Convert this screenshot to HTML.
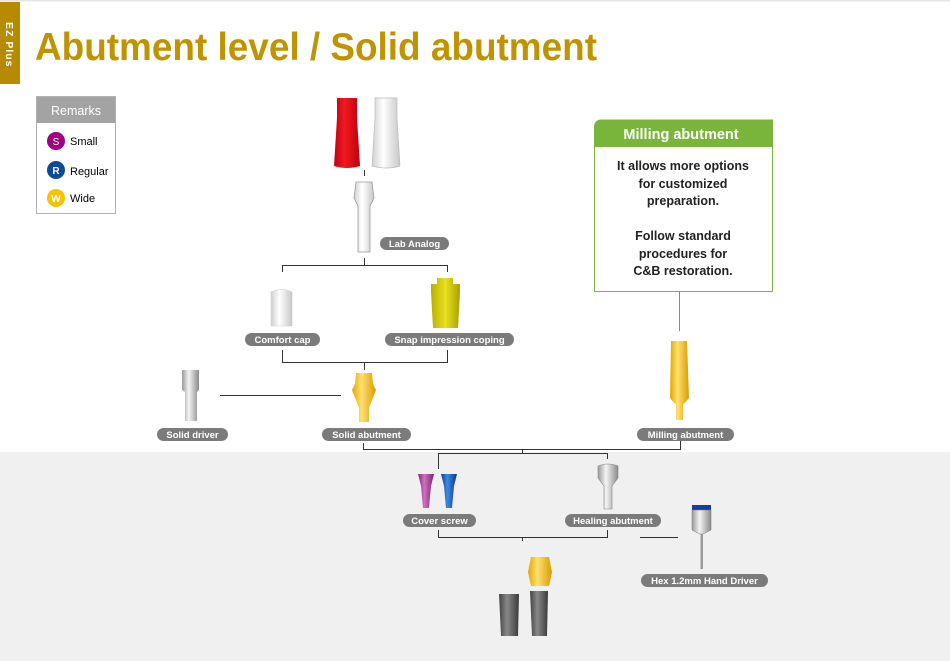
<!DOCTYPE html>
<html><head><meta charset="utf-8"><style>
html,body{margin:0;padding:0;background:#fff}
svg{display:block}
text{font-family:"Liberation Sans",sans-serif}
.pl{fill:#7b7b7b}
.pt{fill:#fff;font-size:9.5px;font-weight:bold;text-anchor:middle}
.ln{stroke:#333;stroke-width:1;fill:none}
</style></head><body>
<svg width="950" height="661" viewBox="0 0 950 661" xmlns="http://www.w3.org/2000/svg">
<defs>
<linearGradient id="gold" x1="0" x2="1"><stop offset="0" stop-color="#e0a800"/><stop offset=".4" stop-color="#ffe070"/><stop offset="1" stop-color="#d99c00"/></linearGradient>
<linearGradient id="silver" x1="0" x2="1"><stop offset="0" stop-color="#9a9a9a"/><stop offset=".4" stop-color="#f4f4f4"/><stop offset="1" stop-color="#8a8a8a"/></linearGradient>
<linearGradient id="white" x1="0" x2="1"><stop offset="0" stop-color="#d0d0d0"/><stop offset=".4" stop-color="#fff"/><stop offset="1" stop-color="#c8c8c8"/></linearGradient>
<linearGradient id="red" x1="0" x2="1"><stop offset="0" stop-color="#c00010"/><stop offset=".4" stop-color="#f01a20"/><stop offset="1" stop-color="#c00010"/></linearGradient>
<linearGradient id="yel" x1="0" x2="1"><stop offset="0" stop-color="#b8b000"/><stop offset=".5" stop-color="#e8e020"/><stop offset="1" stop-color="#a8a000"/></linearGradient>
<linearGradient id="grey" x1="0" x2="1"><stop offset="0" stop-color="#444"/><stop offset=".4" stop-color="#888"/><stop offset="1" stop-color="#3a3a3a"/></linearGradient>
<linearGradient id="pink" x1="0" x2="1"><stop offset="0" stop-color="#8a2a80"/><stop offset=".4" stop-color="#d070c0"/><stop offset="1" stop-color="#7a2070"/></linearGradient>
<linearGradient id="blue" x1="0" x2="1"><stop offset="0" stop-color="#1040a0"/><stop offset=".4" stop-color="#3c8ae0"/><stop offset="1" stop-color="#0c3490"/></linearGradient>
</defs>
<rect x="0" y="0" width="950" height="1.5" fill="#e6e6e6"/>
<rect x="0" y="452" width="950" height="209" fill="#eff0ef"/>
<rect x="0" y="2" width="20" height="82" fill="#b88a00"/>
<text x="0" y="0" transform="translate(6,22) rotate(90)" fill="#fff" font-size="10.5" font-weight="bold" letter-spacing="1">EZ Plus</text>
<text x="35" y="60" fill="#c09400" font-size="39" font-weight="bold" textLength="562" lengthAdjust="spacingAndGlyphs">Abutment level / Solid abutment</text>
<rect x="36.5" y="96.5" width="79" height="117" fill="#fff" stroke="#b0b0b0"/>
<rect x="37" y="97" width="78" height="26" fill="#a3a3a3"/>
<text x="76" y="115" fill="#fff" font-size="12.5" text-anchor="middle">Remarks</text>
<circle cx="56" cy="141" r="9" fill="#a0007f"/><text x="56" y="145" fill="#fff" font-size="10" text-anchor="middle">S</text>
<text x="70" y="145" font-size="11">Small</text>
<circle cx="56" cy="170" r="9" fill="#0e4a9a"/><text x="56" y="174" fill="#fff" font-size="10" font-weight="bold" text-anchor="middle">R</text>
<text x="70" y="175" font-size="11">Regular</text>
<circle cx="56" cy="198" r="9" fill="#f7c200"/><text x="56" y="202" fill="#fff" font-size="10" font-weight="bold" text-anchor="middle">W</text>
<text x="70" y="202" font-size="11">Wide</text>
<path d="M594.5,291.5 V128 Q594.5,120 602,120 H772.5 V291.5 Z" fill="#fff" stroke="#7ab63c"/>
<path d="M594,147 V128 Q594,119.5 602,119.5 H773 V147 Z" fill="#79b53b"/>
<text x="681" y="139" fill="#fff" font-size="14.5" font-weight="bold" text-anchor="middle">Milling abutment</text>
<g font-size="12.5" font-weight="bold" text-anchor="middle" fill="#222">
<text x="683" y="170">It allows more options</text>
<text x="683" y="188">for customized</text>
<text x="683" y="205">preparation.</text>
<text x="683" y="240">Follow standard</text>
<text x="683" y="258">procedures for</text>
<text x="683" y="275">C&amp;B restoration.</text>
</g>
<line x1="679.5" y1="292" x2="679.5" y2="331" stroke="#888"/>
<g class="ln">
<path d="M364.5,176 V170"/>
<path d="M364.5,258 V265.5 M282.5,272 V265.5 H447.5 V272"/>
<path d="M282.5,350 V362.5 H447.5 V350 M364.5,362.5 V370"/>
<path d="M220,395.5 H341"/>
<path d="M363.5,443 V449.5 H680.5 V441"/>
<path d="M522.5,449.5 V453.5 M438.5,469 V453.5 H607.5 V459"/>
<path d="M438.5,530 V537.5 H607.5 V530 M522.5,537.5 V541"/>
<path d="M640,537.5 H678"/>
</g>
<path d="M337,98 H357 V118 L360,166 Q347,170 334,166 L337,118 Z" fill="url(#red)"/>
<path d="M375,98 H397 V118 L400,166 Q387,170 372,166 L375,118 Z" fill="url(#white)" stroke="#bbb" stroke-width=".7"/>
<path d="M356,182 H372 L374,198 L370,206 V252 H358 V206 L354,198 Z" fill="url(#white)" stroke="#999" stroke-width=".8"/>
<path d="M271,292 Q282,287 292,292 V326 H271 Z" fill="url(#white)" stroke="#ccc" stroke-width=".6"/>
<path d="M437,278 H453 V284 H460 V292 L458,328 H433 L431,292 V284 H437 Z" fill="url(#yel)"/>
<path d="M356,373 H372 L373,384 L376,390 L369,408 V422 H359 V408 L352,390 L355,384 Z" fill="url(#gold)"/>
<path d="M182,370 H199 V390 L197,392 V421 H185 V392 L182,390 Z" fill="url(#silver)"/>
<path d="M671,341 H687 L689,398 L683,405 V420 H676 V405 L670,398 Z" fill="url(#gold)"/>
<path d="M418,474 H434 L431,486 L429,508 H423 L421,486 Z" fill="url(#pink)"/>
<path d="M441,474 H457 L454,486 L452,508 H446 L444,486 Z" fill="url(#blue)"/>
<path d="M598,466 Q608,462 618,466 V478 L612,486 V509 H604 V486 L598,478 Z" fill="url(#silver)" stroke="#888" stroke-width=".6"/>
<rect x="692" y="505" width="19" height="5" fill="#1a3c9a"/>
<path d="M692,510 H711 V530 L703,534 H700 L692,530 Z" fill="url(#silver)" stroke="#777" stroke-width=".5"/>
<rect x="700.5" y="534" width="2.5" height="35" fill="#9a9a9a"/>
<path d="M499,594 H519 L518,636 H501 Z" fill="url(#grey)"/>
<path d="M531,557 H549 L552,572 L549,586 H531 L528,572 Z" fill="url(#gold)"/>
<path d="M530,591 H548 L547,636 H532 Z" fill="url(#grey)"/>
<g>
<rect class="pl" x="380" y="237" width="69" height="13" rx="6.5"/><text class="pt" x="414.5" y="247">Lab Analog</text>
<rect class="pl" x="245" y="333" width="75" height="13" rx="6.5"/><text class="pt" x="282.5" y="343">Comfort cap</text>
<rect class="pl" x="385" y="333" width="129" height="13" rx="6.5"/><text class="pt" x="449.5" y="343">Snap impression coping</text>
<rect class="pl" x="157" y="428" width="71" height="13" rx="6.5"/><text class="pt" x="192.5" y="438">Solid driver</text>
<rect class="pl" x="322" y="428" width="89" height="13" rx="6.5"/><text class="pt" x="366.5" y="438">Solid abutment</text>
<rect class="pl" x="637" y="428" width="97" height="13" rx="6.5"/><text class="pt" x="685.5" y="438">Milling abutment</text>
<rect class="pl" x="403" y="514" width="73" height="13" rx="6.5"/><text class="pt" x="439.5" y="524">Cover screw</text>
<rect class="pl" x="565" y="514" width="96" height="13" rx="6.5"/><text class="pt" x="613" y="524">Healing abutment</text>
<rect class="pl" x="641" y="574" width="127" height="13" rx="6.5"/><text class="pt" x="704.5" y="584">Hex 1.2mm Hand Driver</text>
</g>
</svg>
</body></html>
